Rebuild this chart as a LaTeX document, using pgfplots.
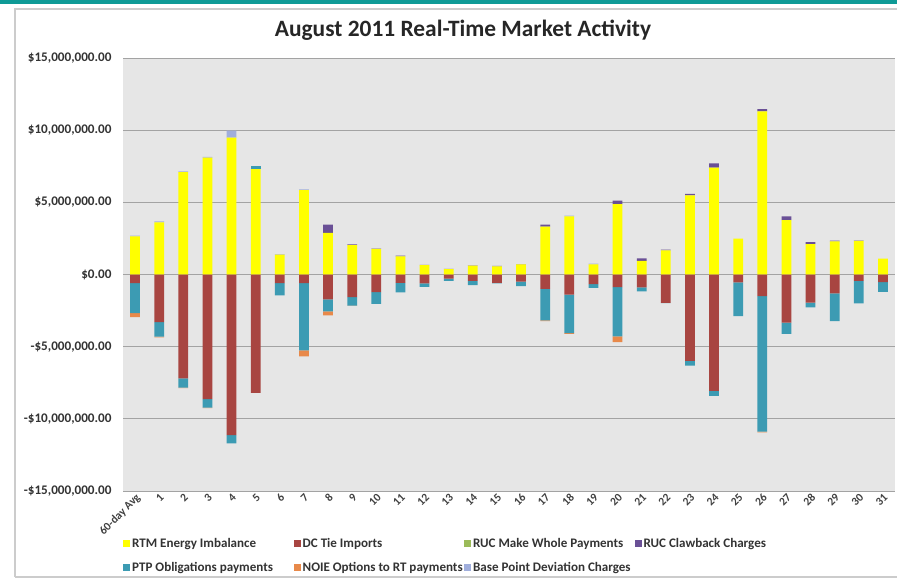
\documentclass[border=0pt]{standalone}
\usepackage{fontspec}
\setmainfont{Carlito}
\usepackage{pgfplots}
\usepackage{pgfplotstable}
\pgfplotsset{compat=1.18}
\definecolor{rtmc}{HTML}{FFFF00}
\definecolor{dcc}{HTML}{A84541}
\definecolor{rucmw}{HTML}{9BBB59}
\definecolor{clawc}{HTML}{6A5096}
\definecolor{ptpc}{HTML}{3C9BB3}
\definecolor{noiec}{HTML}{E8894A}
\definecolor{bpdc}{HTML}{A0AEDC}
\definecolor{plotbg}{HTML}{E6E6E6}
\definecolor{gridc}{HTML}{A3A3A3}
\definecolor{topteal}{HTML}{0E9A96}
\pgfplotsset{legsq/.style={legend image code/.code={\fill[##1] (0bp,-3.5bp) rectangle (7bp,3.5bp);}}}

% values in millions of dollars
\pgfplotstableread{
idx rtm rucmw ptppos claw bpd dc ptp noie
0  2.65 0 0    0    0.05 -0.60 -2.07 -0.28
1  3.62 0 0    0    0.06 -3.30 -1.00 -0.05
2  7.10 0 0    0    0.05 -7.20 -0.63 -0.04
3  8.10 0 0    0    0.05 -8.64 -0.58 -0.03
4  9.49 0 0    0    0.48 -11.13 -0.57 0
5  7.30 0 0.20 0    0    -8.20 0     0
6  1.38 0 0    0    0.03 -0.60 -0.85 0
7  5.85 0 0    0    0.05 -0.60 -4.65 -0.42
8  2.88 0 0    0.58 0    -1.73 -0.83 -0.27
9  2.03 0 0    0.06 0    -1.57 -0.58 -0.03
10 1.77 0 0    0.03 0    -1.22 -0.81 0
11 1.25 0 0    0.05 0    -0.58 -0.66 0
12 0.65 0 0    0.02 0    -0.62 -0.23 0
13 0.37 0 0    0.02 0    -0.28 -0.16 0
14 0.62 0 0    0.02 0    -0.44 -0.30 0
15 0.57 0 0    0.02 0    -0.58 -0.03 0
16 0.70 0 0    0.02 0    -0.50 -0.30 0
17 3.32 0 0    0.14 0    -0.99 -2.19 -0.05
18 4.03 0 0    0    0.05 -1.40 -2.66 -0.05
19 0.71 0 0    0    0.04 -0.67 -0.25 0
20 4.88 0 0    0.23 0    -0.88 -3.41 -0.39
21 0.94 0 0    0.18 0    -0.90 -0.27 0
22 1.68 0 0    0.05 0    -1.96 -0.03 0
23 5.48 0 0    0.10 0    -5.99 -0.32 0
24 7.40 0 0    0.30 0    -8.06 -0.35 0
25 2.49 0 0    0    0    -0.55 -2.33 0
26 11.31 0 0   0.14 0    -1.50 -9.38 -0.06
27 3.76 0 0    0.27 0    -3.34 -0.78 0
28 2.10 0 0    0.15 0    -1.94 -0.34 0
29 2.30 0 0    0.05 0    -1.31 -1.92 0
30 2.33 0 0    0.02 0    -0.44 -1.56 0
31 1.10 0 0    0    0    -0.53 -0.67 0
}\datatable

\begin{document}
\begin{tikzpicture}
\useasboundingbox (0bp,0bp) rectangle (897bp,-584bp);
\fill[topteal] (0bp,0bp) rectangle (897bp,-3.5bp);
\draw[gray!40, line width=1.2bp] (15bp,-577bp) -- (15bp,-9bp) -- (897bp,-9bp);
\draw[gray!40, line width=1.2bp] (15bp,-577bp) -- (897bp,-577bp);
\node[font=\fontsize{23.5}{27}\selectfont\bfseries, text=black!85] at (463bp,-30bp) {August 2011 Real-Time Market Activity};

\begin{axis}[
  at={(123bp,-491bp)}, anchor=south west,
  scale only axis, width=772bp, height=433bp,
  xmin=-0.5, xmax=31.5, ymin=-15, ymax=15,
  ybar stacked, bar width=9.7bp,
  axis background/.style={fill=plotbg},
  axis line style={draw=none},
  ymajorgrids, grid style={gridc, line width=0.9bp},
  major tick length=0pt,
  ytick={-15,-10,-5,0,5,10,15},
  yticklabels={{-\$15,000,000.00},{-\$10,000,000.00},{-\$5,000,000.00},{\$0.00},{\$5,000,000.00},{\$10,000,000.00},{\$15,000,000.00}},
  yticklabel style={font=\fontsize{13.2}{15}\selectfont\bfseries, text=black!80, xshift=-8bp},
  xtick={0,...,31},
  xticklabels={60-day Avg,1,2,3,4,5,6,7,8,9,10,11,12,13,14,15,16,17,18,19,20,21,22,23,24,25,26,27,28,29,30,31},
  xticklabel style={font=\fontsize{11.5}{13}\selectfont\bfseries, text=black!75, rotate=45, anchor=north east, inner sep=1bp},
  legend columns=4,
  legend style={at={(axis description cs:0,-0.105)}, anchor=north west, draw=none, fill=none, inner sep=0pt, row sep=9bp, font=\fontsize{13.1}{15}\selectfont\bfseries, text=black!80},
]
\addplot[fill=rtmc, draw=none, forget plot] table[x=idx,y=rtm]{\datatable};
\addplot[fill=rucmw, draw=none, forget plot] table[x=idx,y=rucmw]{\datatable};
\addplot[fill=ptpc, draw=none, forget plot] table[x=idx,y=ptppos]{\datatable};
\addplot[fill=clawc, draw=none, forget plot] table[x=idx,y=claw]{\datatable};
\addplot[fill=bpdc, draw=none, forget plot] table[x=idx,y=bpd]{\datatable};
\addlegendimage{legsq, fill=rtmc, draw=none}
\addlegendentry{\makebox[159.5bp][l]{RTM Energy Imbalance}}
\addlegendimage{legsq, fill=dcc, draw=none}
\addlegendentry{\makebox[159.5bp][l]{DC Tie Imports}}
\addlegendimage{legsq, fill=rucmw, draw=none}
\addlegendentry{\makebox[159.5bp][l]{RUC Make Whole Payments}}
\addlegendimage{legsq, fill=clawc, draw=none}
\addlegendentry{\makebox[159.5bp][l]{RUC Clawback Charges}}
\addlegendimage{legsq, fill=ptpc, draw=none}
\addlegendentry{\makebox[159.5bp][l]{PTP Obligations payments}}
\addlegendimage{legsq, fill=noiec, draw=none}
\addlegendentry{\makebox[159.5bp][l]{NOIE Options to RT payments}}
\addlegendimage{legsq, fill=bpdc, draw=none}
\addlegendentry{\makebox[159.5bp][l]{Base Point Deviation Charges}}
\end{axis}

\begin{axis}[
  at={(123bp,-491bp)}, anchor=south west,
  scale only axis, width=772bp, height=433bp,
  xmin=-0.5, xmax=31.5, ymin=-15, ymax=15,
  hide axis, ybar stacked, bar width=9.7bp,
]
\addplot[fill=dcc, draw=none] table[x=idx,y=dc]{\datatable};
\addplot[fill=ptpc, draw=none] table[x=idx,y=ptp]{\datatable};
\addplot[fill=noiec, draw=none] table[x=idx,y=noie]{\datatable};
\end{axis}
\end{tikzpicture}
\end{document}
